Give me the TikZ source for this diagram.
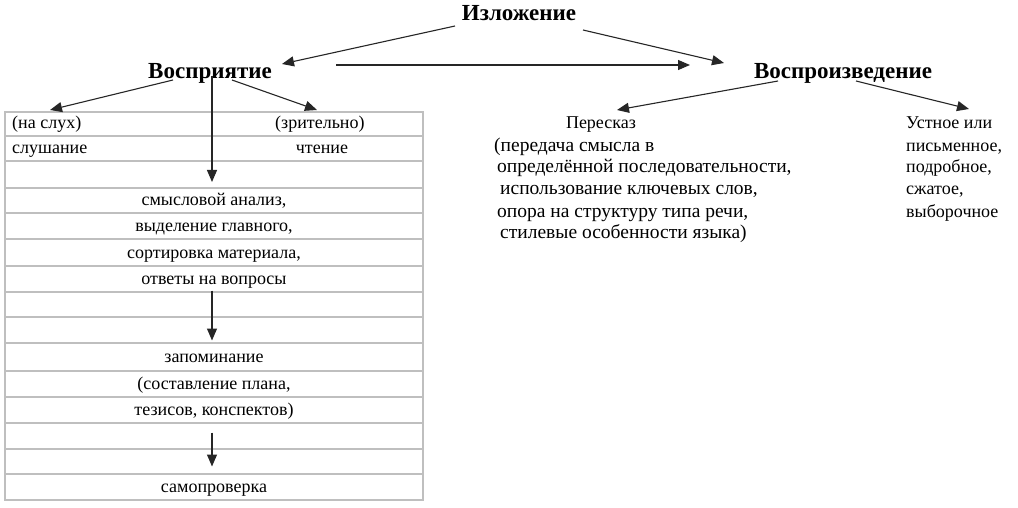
\documentclass[tikz,border=0pt]{standalone}
\usepackage{fontspec}
\setmainfont{Liberation Serif}
\usetikzlibrary{arrows.meta}
\begin{document}
\begin{tikzpicture}[x=1pt,y=-1pt,
  head/.style={font=\fontsize{23}{27}\selectfont\bfseries, inner sep=0pt, anchor=base},
  cell/.style={font=\fontsize{18}{22}\selectfont, inner sep=0pt, anchor=base},
  txt/.style={font=\fontsize{18}{22}\selectfont, inner sep=0pt, anchor=base west},
  rtxt/.style={font=\fontsize{19.5}{22}\selectfont, inner sep=0pt, anchor=base west},
  grid/.style={draw=black!25, line width=1.1pt},
  arr/.style={draw=black!85, line width=1.1pt, -{Triangle[length=12pt,width=10pt]}},
]
\fill[white] (0,0) rectangle (1018,508);
\useasboundingbox (0,0) rectangle (1018,508);

% table
\draw[grid] (5,112) rectangle (423,500);
\foreach \yy in {136,161,188,213,239,266,292,317,343,371,397,423,449,474}
  \draw[grid] (5,\yy) -- (423,\yy);

% headings
\node[head] (izl) at (519,21) {Изложение};
\node[head] (vos) at (210,79) {Восприятие};
\node[head] (vosp) at (843,79) {Воспроизведение};

% table texts
\node[txt] (nasluh) at (12,129) {(на слух)};
\node[txt] (zrit) at (275,129) {(зрительно)};
\node[txt] (slush) at (12,154) {слушание};
\node[cell] (cht) at (322,154) {чтение};
\node[cell] (r4) at (214,206) {смысловой анализ,};
\node[cell] (r5) at (214,231.5) {выделение главного,};
\node[cell] (r6) at (214,258) {сортировка материала,};
\node[cell] (r7) at (214,284.5) {ответы на вопросы};
\node[cell] (r10) at (214,362.5) {запоминание};
\node[cell] (r11) at (214,389.5) {(составление плана,};
\node[cell] (r12) at (214,415.5) {тезисов, конспектов)};
\node[cell] (r15) at (214,492.5) {самопроверка};

% right side
\node[cell] (per) at (601,129) {Пересказ};
\node[rtxt] (p1) at (494,152) {(передача смысла в};
\node[rtxt] (p2) at (497,173) {определённой последовательности,};
\node[rtxt] (p3) at (500,195) {использование ключевых слов,};
\node[rtxt] (p4) at (497,217) {опора на структуру типа речи,};
\node[rtxt] (p5) at (500,238) {стилевые особенности языка)};
\node[txt] (u1) at (906,129) {Устное или};
\node[txt] (u2) at (906,152) {письменное,};
\node[txt] (u3) at (906,173) {подробное,};
\node[txt] (u4) at (906,195) {сжатое,};
\node[txt] (u5) at (906,217) {выборочное};

% arrows
\draw[arr] ([shift={(-64,5)}]izl.base) -- ([shift={(72,-15)}]vos.base);
\draw[arr] ([shift={(64,9)}]izl.base) -- ([shift={(-119,-16)}]vosp.base);
\draw[arr] ([shift={(126,-14)}]vos.base) -- ([shift={(-153,-14)}]vosp.base);
\draw[arr] ([shift={(-37,1)}]vos.base) -- ([shift={(38,-19)}]nasluh.base west);
\draw[arr] ([shift={(22,1)}]vos.base) -- ([shift={(42,-19)}]zrit.base west);
\draw[arr] ([shift={(2,-3)}]vos.base) -- ([shift={(-2,-24)}]r4.base);
\draw[arr] ([shift={(-2,6)}]r7.base) -- ([shift={(-2,-22)}]r10.base);
\draw[arr] ([shift={(-2,17)}]r12.base) -- ([shift={(-2,-26)}]r15.base);
\draw[arr] ([shift={(-65,2)}]vosp.base) -- ([shift={(16,-19)}]per.base);
\draw[arr] ([shift={(13,2)}]vosp.base) -- ([shift={(63,-20)}]u1.base west);
\end{tikzpicture}
\end{document}
